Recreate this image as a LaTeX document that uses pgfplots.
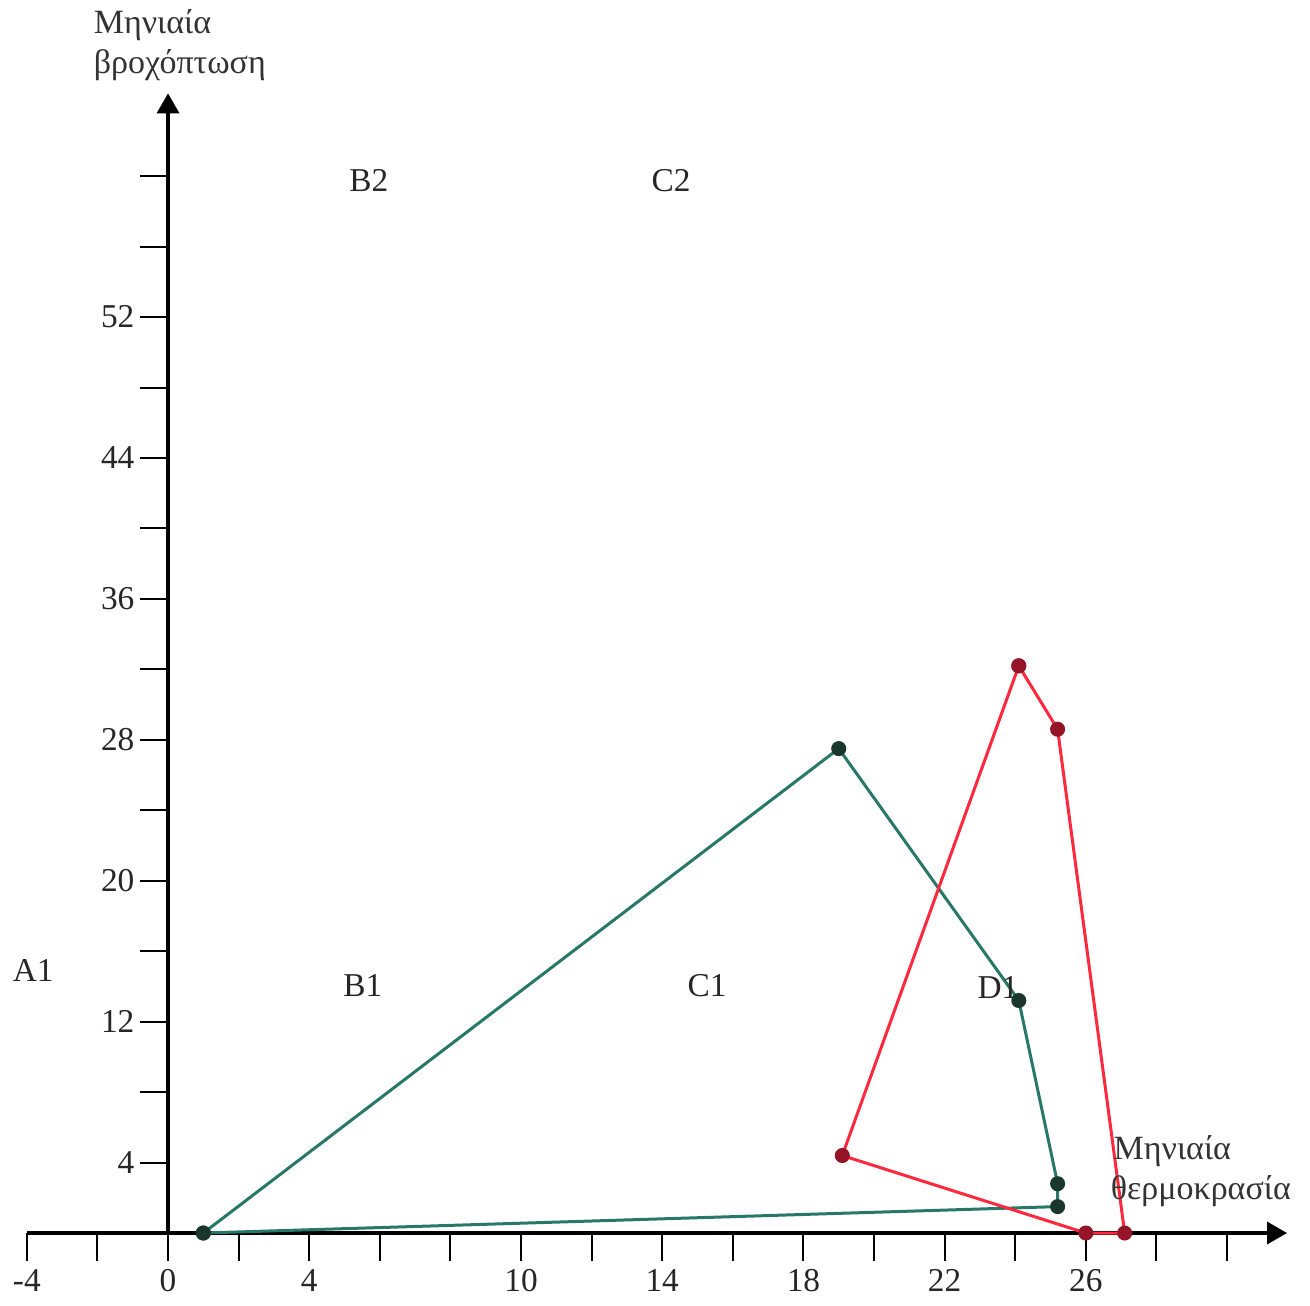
\documentclass[border=0pt]{standalone}
\usepackage{fontspec}
\setmainfont{Liberation Serif}
\usepackage{pgfplots}
\pgfplotsset{compat=1.18}
\usetikzlibrary{arrows.meta}
\definecolor{grn}{RGB}{40,120,105}
\definecolor{grnd}{RGB}{25,55,45}
\definecolor{rd}{RGB}{255,40,60}
\definecolor{rdd}{RGB}{150,20,40}
\begin{document}
\fontsize{10}{12}\selectfont
\begin{tikzpicture}
\begin{axis}[
  x=10.59pt, y=5.2845pt,
  axis lines=middle,
  xmin=-4, xmax=31.7, ymin=0, ymax=64.7,
  clip=false,
  axis line style={line width=1pt, black, -{Triangle[length=6pt,width=6.6pt]}},
  tick align=outside,
  major tick length=8.4pt,
  tick style={line width=0.6pt, black},
  hide obscured x ticks=false,
  hide obscured y ticks=false,
  xtick={-4,-2,...,30},
  xticklabels={{-4},{},{0},{},{4},{},{},{10},{},{14},{},{18},{},{22},{},{26},{},{}},
  ytick={4,8,...,60},
  yticklabels={{4},{},{12},{},{20},{},{28},{},{36},{},{44},{},{52},{},{}},
  /pgf/number format/assume math mode=true,
  ticklabel style={font=\fontsize{10}{12}\selectfont, text=black!85},
  xticklabel style={inner sep=0pt, anchor=north, yshift=-2.4pt},
  yticklabel style={inner sep=0pt, anchor=east, xshift=-1.5pt},
]
\path (axis cs:-4.76,-4.1) rectangle (axis cs:32.35,70.0);
\addplot[grn, line width=0.9pt, mark=*, mark size=1.8pt, mark options={fill=grnd, draw=grnd}]
  coordinates {(1,0) (19,27.5) (24.1,13.2) (25.2,2.8) (25.2,1.5) (1,0)};
\addplot[rd, line width=0.9pt, mark=*, mark size=1.8pt, mark options={fill=rdd, draw=rdd}]
  coordinates {(24.1,32.2) (25.2,28.6) (27.1,0) (26,0) (19.1,4.4) (24.1,32.2)};
\begin{scope}[every node/.style={inner sep=0pt, text=black!85, font=\fontsize{10}{12}\selectfont}]
\node[anchor=base] at (axis cs:-3.82,14.3) {A1};
\node[anchor=base] at (axis cs:5.52,13.4) {B1};
\node[anchor=base] at (axis cs:15.27,13.4) {C1};
\node[anchor=base] at (axis cs:23.51,13.3) {D1};
\node[anchor=base] at (axis cs:5.69,59.1) {B2};
\node[anchor=base] at (axis cs:14.25,59.1) {C2};
\end{scope}
\begin{scope}[every node/.style={inner sep=0pt, anchor=base west, text=black!80, font=\fontsize{10.2}{12}\selectfont}]
\node at (axis cs:-2.12,68.1) {Μηνιαία};
\node at (axis cs:-2.12,65.85) {βροχόπτωση};
\node at (axis cs:26.77,4.2) {Μηνιαία};
\node at (axis cs:26.69,1.93) {θερμοκρασία};
\end{scope}
\end{axis}
\end{tikzpicture}
\end{document}
